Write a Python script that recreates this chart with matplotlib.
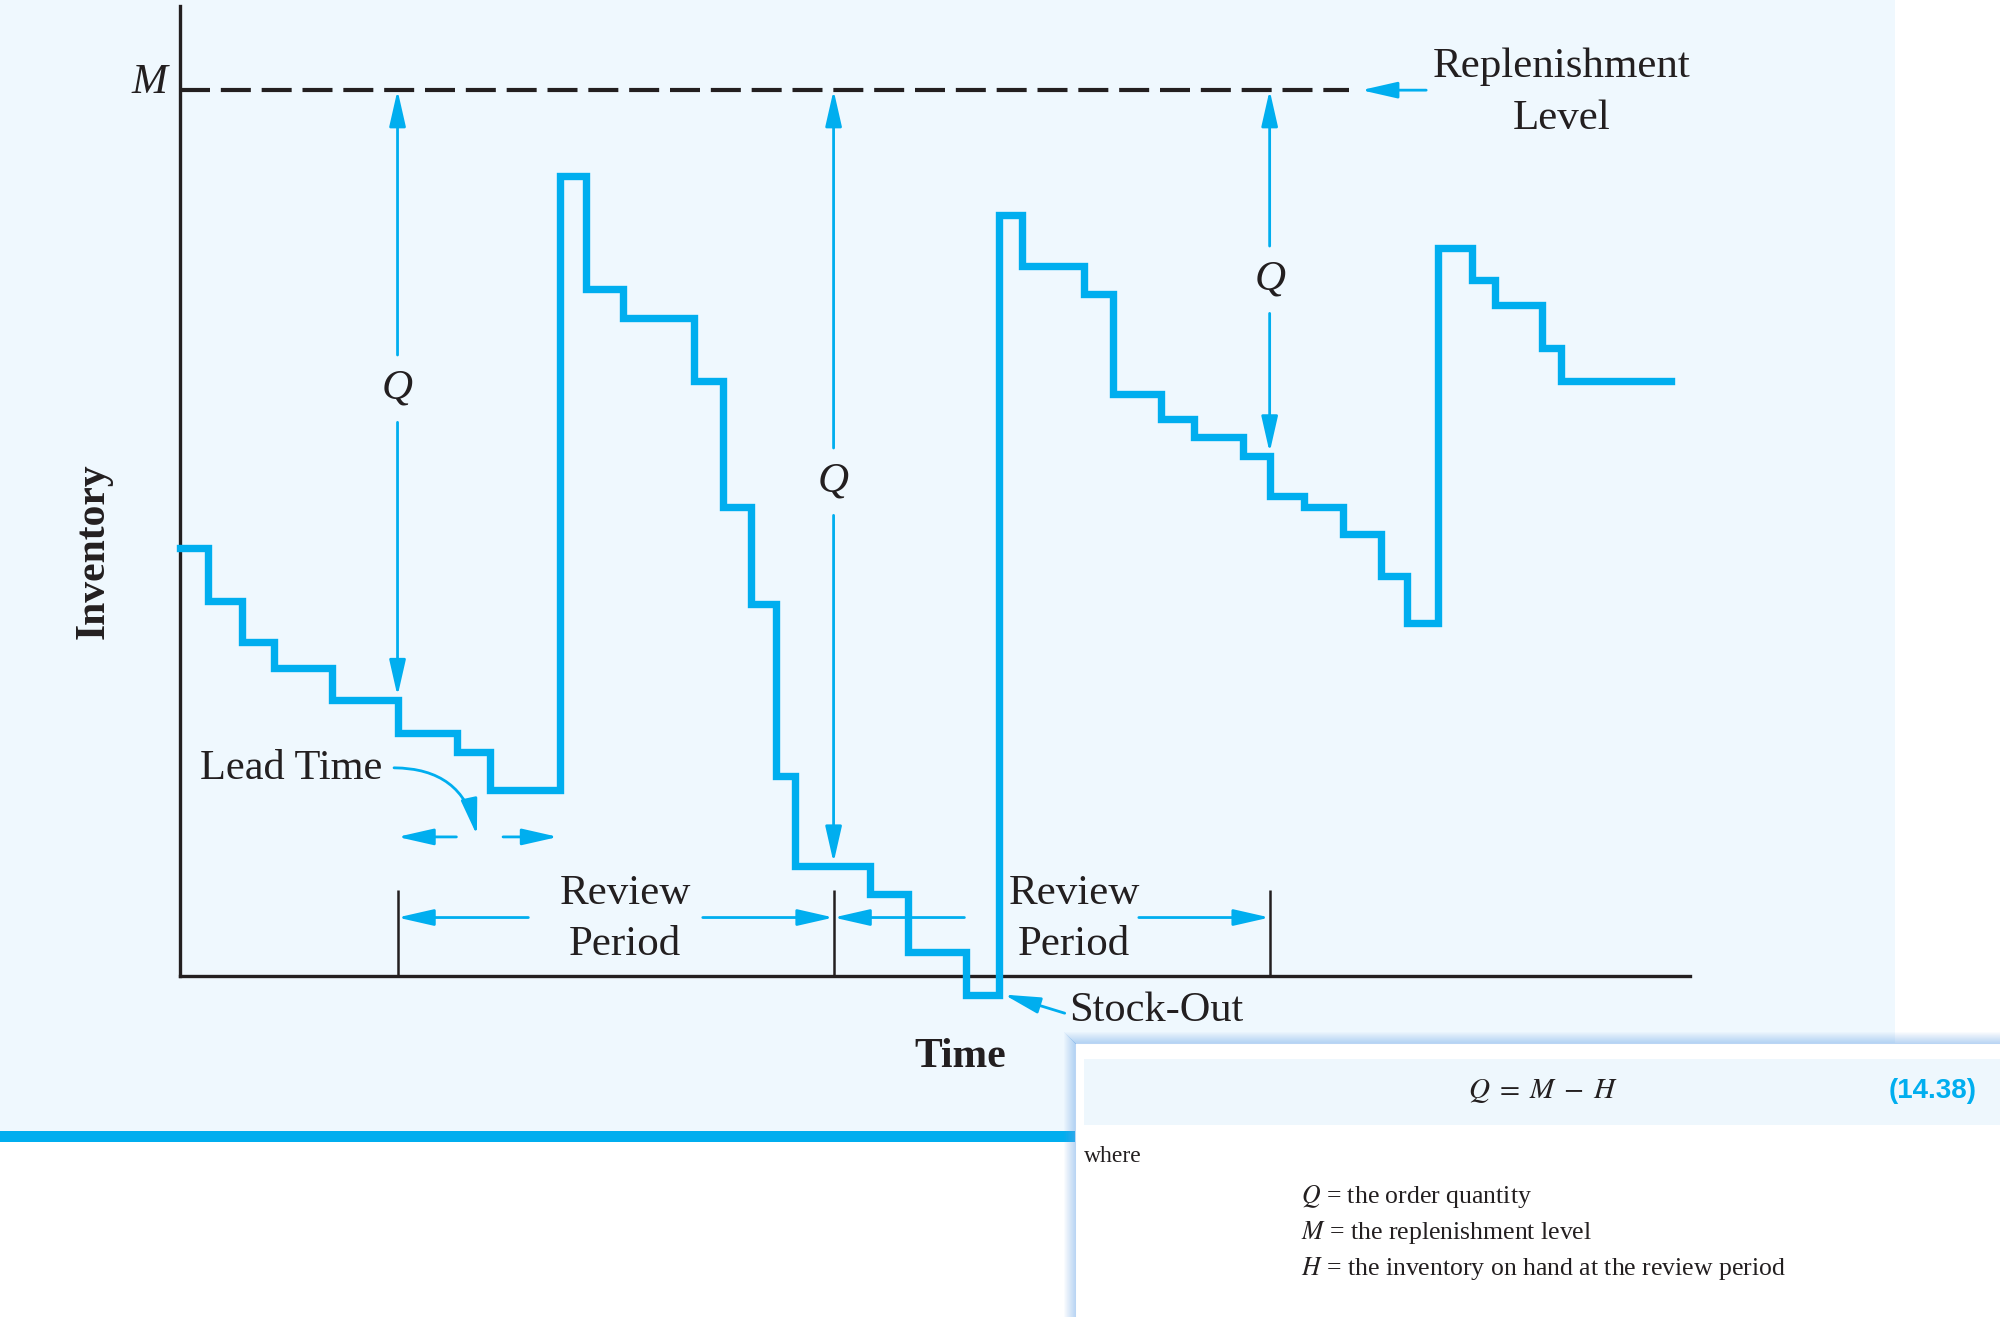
import matplotlib
matplotlib.use('Agg')
import matplotlib.pyplot as plt
from matplotlib.patches import Rectangle

plt.rcParams['font.family'] = ['Liberation Serif', 'DejaVu Serif']
plt.rcParams['mathtext.fontset'] = 'stix'

BLUE = '#00AEEF'
INK = '#231F20'
PANEL = '#EFF8FE'

# inventory in % of the replenishment level M, time in arbitrary units
M = 100
review_times = [5, 15, 25]
on_hand = [31.2, 12.4, 58.7]          # H at each review
q_label_y = [66.3, 55.8, 78.6]
arrival_time = 8.73                   # first order arrives
period_label_x = [10.22, 20.52]

change_times = [0, 0.65, 1.43, 2.17, 3.50, 5.0, 6.36, 7.12, 8.73, 9.33,
                10.17, 11.80, 12.47, 13.11, 13.68, 14.12, 15.84, 16.71, 18.04,
                18.79, 19.32, 20.74, 21.41, 22.51, 23.27, 24.39, 25.0, 25.79,
                26.68, 27.56, 28.16, 28.86, 29.64, 30.17, 31.25, 31.69, 34.21]
levels = [48.3, 42.3, 37.7, 34.8, 31.2, 27.4, 25.3, 21.0, 90.3, 77.5,
          74.3, 67.2, 52.9, 42.0, 22.6, 12.4, 9.3, 2.7, -2.1,
          85.9, 80.1, 77.0, 65.7, 62.9, 60.9, 58.7, 54.2, 52.9,
          49.9, 45.1, 39.9, 82.2, 78.6, 75.8, 70.9, 67.2, 67.2]

definitions = [('Q', 'the order quantity'),
               ('M', 'the replenishment level'),
               ('H', 'the inventory on hand at the review period')]

W, H = 2000, 1317
fig = plt.figure(figsize=(W / 100, H / 100), dpi=100)

# page background (pixel coordinates)
bg = fig.add_axes([0, 0, 1, 1], zorder=0)
bg.set_xlim(0, W)
bg.set_ylim(H, 0)
bg.axis('off')
bg.add_patch(Rectangle((0, 0), 1895, 1131, color=PANEL, lw=0))
bg.add_patch(Rectangle((0, 1131), 1075, 11, color=BLUE, lw=0))

# main diagram
ax = fig.add_axes([0.08975, 0.25893, 0.75525, 0.73651], zorder=1)
ax.patch.set_alpha(0)
ax.set_xlim(0, 34.64)
ax.set_ylim(0, 109.5)
ax.set_xticks([])
ax.set_yticks([])
for s in ['top', 'right']:
    ax.spines[s].set_visible(False)
for s in ['left', 'bottom']:
    ax.spines[s].set_linewidth(2.4)
    ax.spines[s].set_color(INK)
    ax.spines[s].set_capstyle('projecting')

ax.plot(change_times, levels, drawstyle='steps-post', color=BLUE, lw=5.3,
        solid_joinstyle='miter', clip_on=False, zorder=3)

# replenishment level
ax.plot([0, 26.83], [M, M], color=INK, lw=3.0, dashes=(7.2, 2.6), clip_on=False)
ax.annotate('M', xy=(0, M), xytext=(-9, 5), textcoords='offset points',
            ha='right', va='center', fontsize=31, style='italic', color=INK)

akw = dict(arrowstyle='-|>,head_length=2.2,head_width=0.5', color=BLUE,
           lw=2.0, shrinkA=0, shrinkB=0, mutation_scale=10)

ax.annotate('', xy=(27.1, M), xytext=(28.59, M), arrowprops=akw,
            annotation_clip=False)
ax.text(31.69, M - 0.3, 'Replenishment\nLevel', ha='center', va='center',
        fontsize=31, color=INK, linespacing=1.45)

# order quantity arrows
gap = 3.8
for t, h, qy in zip(review_times, on_hand, q_label_y):
    ax.annotate('', xy=(t, M), xytext=(t, qy + gap), arrowprops=akw,
                annotation_clip=False)
    ax.annotate('', xy=(t, h + 0.4), xytext=(t, qy - gap), arrowprops=akw,
                annotation_clip=False)
    ax.text(t, qy, 'Q', ha='center', va='center', fontsize=31,
            style='italic', color=INK)

# review periods
ax.vlines(review_times, 0, 9.7, color=INK, lw=1.8)
arrow_y = 6.6
for t0, t1, lx in zip(review_times[:-1], review_times[1:], period_label_x):
    ax.annotate('', xy=(t0, arrow_y), xytext=(t0 + 3, arrow_y), arrowprops=akw)
    ax.annotate('', xy=(t1, arrow_y), xytext=(t1 - 3, arrow_y), arrowprops=akw)
    ax.text(lx, arrow_y - 0.2, 'Review\nPeriod', ha='center',
            va='center', fontsize=31, color=INK, linespacing=1.45)

# lead time
lt_y = 15.7
ax.annotate('', xy=(review_times[0], lt_y), xytext=(6.35, lt_y), arrowprops=akw)
ax.annotate('', xy=(arrival_time - 0.05, lt_y), xytext=(7.42, lt_y),
            arrowprops=akw)
ax.text(0.47, 22.2, 'Lead Time', ha='left', va='baseline', fontsize=30.5,
        color=INK)
ax.annotate('', xy=(6.82, 15.9), xytext=(4.92, 23.5),
            arrowprops=dict(akw, connectionstyle='arc3,rad=-0.4'))

# stock-out
ax.annotate('', xy=(18.91, -2.1), xytext=(20.3, -4.2), arrowprops=akw,
            annotation_clip=False)
ax.text(20.40, -3.9, 'Stock-Out', ha='left', va='center', fontsize=30.5,
        color=INK)

ax.text(17.9, -9.2, 'Time', ha='center', va='center', fontsize=30,
        fontweight='bold', color=INK)
ax.text(-1.98, 47.9, 'Inventory', ha='center', va='center', rotation=90,
        fontsize=30, fontweight='bold', color=INK)

# equation box on top
ov = fig.add_axes([0, 0, 1, 1], zorder=2)
ov.set_xlim(0, W)
ov.set_ylim(H, 0)
ov.axis('off')
ov.patch.set_alpha(0)
for k in range(12):
    a = 0.45 * (1 - k / 12)
    ov.plot([1075 - k, 1075 - k], [1043 - k, H], color='#6aa6ea', alpha=a, lw=0.75)
    ov.plot([1075 - k, W], [1043 - k, 1043 - k], color='#6aa6ea', alpha=a, lw=0.75)
ov.add_patch(Rectangle((1075, 1043), W - 1075, H - 1043, color='white', lw=0))
ov.add_patch(Rectangle((1084, 1059), W - 1084, 66, color='#EEF7FD', lw=0))
ov.text(1543, 1091, r'$Q\;=\;M\;-\;H$', ha='center', va='center', fontsize=21,
        color=INK)
ov.text(1977, 1091, '(14.38)', ha='right', va='center', fontsize=20,
        fontweight='bold', color=BLUE,
        family=['Liberation Sans Narrow', 'Liberation Sans', 'DejaVu Sans'])
ov.text(1084, 1156, 'where', ha='left', va='center', fontsize=17, color=INK)
for i, (sym, desc) in enumerate(definitions):
    ov.text(1301, 1196 + 36 * i, '$%s$ = %s' % (sym, desc), ha='left',
            va='center', fontsize=18.5, color=INK)

fig.savefig('out.png', dpi=100)
